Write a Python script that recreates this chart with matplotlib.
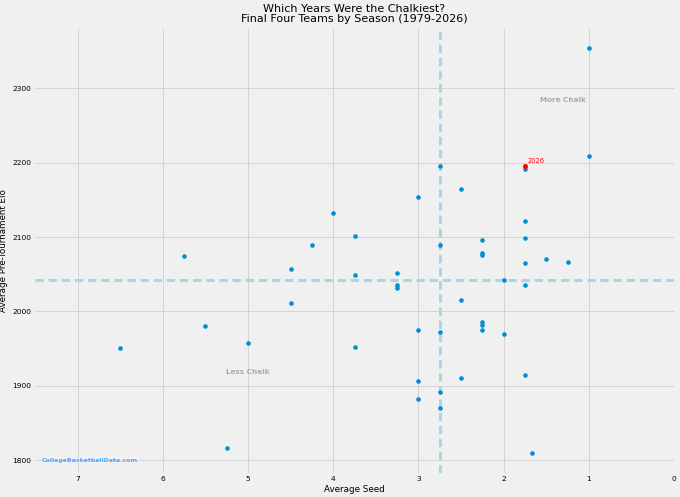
import matplotlib
matplotlib.use("Agg")
import matplotlib.pyplot as plt
import numpy as np

plt.style.use("fivethirtyeight")
plt.rcParams['font.family'] = ['DejaVu Sans']

avg_seed = [1.0, 1.0, 1.75, 2.75, 2.5, 3.0, 4.0, 1.75, 3.75, 1.75, 2.25, 4.25, 2.75,
            2.25, 2.25, 5.75, 1.5, 1.25, 1.75, 4.5, 3.25, 3.75, 2.0, 1.75, 3.25, 3.25,
            2.5, 4.5, 2.25, 2.25, 5.5, 2.25, 3.0, 2.75, 2.0, 5.0, 3.75, 6.5, 1.75, 2.5,
            3.0, 2.75, 3.0, 2.75, 5.25, 5/3]
avg_elo = [2354, 2209, 2192, 2195, 2165, 2154, 2132, 2122, 2102, 2099, 2096, 2090, 2090,
           2079, 2076, 2074, 2070, 2066, 2065, 2057, 2052, 2049, 2042, 2035, 2035, 2031,
           2015, 2011, 1986, 1982, 1980, 1975, 1975, 1972, 1970, 1957, 1952, 1951, 1914, 1911,
           1906, 1892, 1882, 1870, 1816, 1810]
cur_label = "2026"
cur_seed = 1.75
cur_elo = 2196

all_seed = avg_seed + [cur_seed]
all_elo = avg_elo + [cur_elo]

fig = plt.figure(figsize=(6.8, 4.97), dpi=100)
fig.patch.set_facecolor("#f0f0f0")
ax = fig.add_axes([35/680, 24/497, 639/680, 445/497])
ax.set_facecolor("#f0f0f0")

ax.scatter(avg_seed, avg_elo, s=11, color="#008fd5", zorder=3, linewidths=0)
ax.scatter([cur_seed], [cur_elo], s=13, color="red", zorder=4, linewidths=0)
ax.annotate(cur_label, (cur_seed, cur_elo), xytext=(2, 2), textcoords="offset points",
            color="red", fontsize=4.8)

ax.axvline(np.median(all_seed), color="#acd4e6", linestyle=(0, (2.7, 1.6)), lw=2.2, zorder=2)
ax.axhline(np.median(all_elo), color="#acd4e6", linestyle=(0, (2.7, 1.6)), lw=2.2, zorder=2)

ax.set_xlim(7.5, 0)
ax.margins(y=0.05)
ax.set_xticks(range(0, 8))
ax.set_yticks([1800, 1900, 2000, 2100, 2200, 2300])
ax.tick_params(labelsize=5.4, length=0, pad=2.5)
ax.grid(True, color="#d4d4d4", lw=0.7)
for s in ax.spines.values():
    s.set_visible(False)

ax.set_xlabel("Average Seed", fontsize=6.3, labelpad=1.5)
ax.set_ylabel("Average Pre-Tournament Elo", fontsize=6.3, labelpad=3)
ax.set_title("Which Years Were the Chalkiest?\nFinal Four Teams by Season (1979-2026)",
             fontsize=8, pad=4, linespacing=1.1)

ax.text(1.3, 2285, "More Chalk", ha="center", va="center", fontsize=5.2, color="#aaaaaa",
        fontweight="bold")
ax.text(5.0, 1918, "Less Chalk", ha="center", va="center", fontsize=5.2, color="#aaaaaa",
        fontweight="bold")
ax.text(0.0105, 0.029, "CollegeBasketballData.com", transform=ax.transAxes, fontsize=4.5,
        color="#4da6ff", fontweight="bold", ha="left", va="center",
        bbox=dict(facecolor="white", alpha=0.3, edgecolor="none", pad=0.5))

fig.savefig("out.png", dpi=100, facecolor=fig.get_facecolor())
